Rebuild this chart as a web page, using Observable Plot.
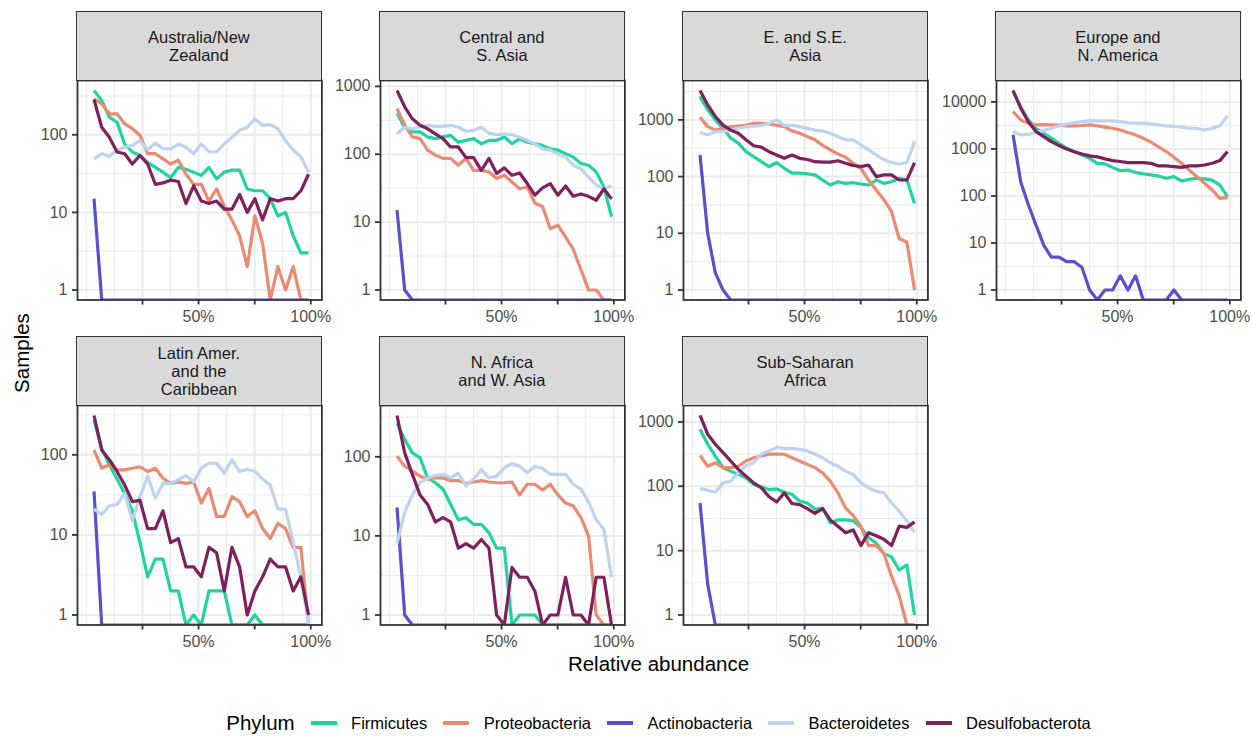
<!DOCTYPE html>
<html>
<head>
<meta charset="utf-8">
<script src="https://cdn.jsdelivr.net/npm/d3@7"></script>
<script src="https://cdn.jsdelivr.net/npm/@observablehq/plot@0.6"></script>
<style>
  html, body { margin: 0; padding: 0; background: #fff; }
  #chart { position: relative; width: 1252px; height: 736px; overflow: hidden;
           font-family: "Liberation Sans", Arial, Helvetica, sans-serif; }
  .strip { position: absolute; box-sizing: border-box; background: #d9d9d9; border: 1.8px solid #333;
           display: flex; align-items: center; justify-content: center; text-align: center;
           white-space: pre-line; font-size: 16.5px; line-height: 18.3px; color: #1a1a1a; }
  .panel { position: absolute; }
  .title { position: absolute; color: #000; font-size: 20.5px; white-space: nowrap; line-height: 1; }
  .legend { position: absolute; left: 0; width: 1317px; top: 710px; height: 26px;
            display: flex; align-items: center; justify-content: center; color: #000; }
  .legend .ltitle { font-size: 20.5px; margin-right: 16px; }
  .legend .key { display: inline-block; width: 26px; height: 3.2px; margin-right: 14.5px; }
  .legend .lab { font-size: 16.5px; margin-right: 16px; color: #000; }
  .legend .lab:last-child { margin-right: 0; }
</style>
</head>
<body>
<div id="chart"></div>
<script>
// Phyla in legend / drawing order, with their line colours
const phyla = ["Firmicutes", "Proteobacteria", "Actinobacteria", "Bacteroidetes", "Desulfobacterota"];
const phylumColors = ["#1fd49f", "#eb8a73", "#5b4ecf", "#bdd3ef", "#7e1f5e"];

// Region facets (strip labels, wrapped)
const regions = [
  "Australia/New\nZealand",
  "Central and\nS. Asia",
  "E. and S.E.\nAsia",
  "Europe and\nN. America",
  "Latin Amer.\nand the\nCaribbean",
  "N. Africa\nand W. Asia",
  "Sub-Saharan\nAfrica"
];

// Relative-abundance bin centres (%), and the abundance range the x axis covers
const abundanceBins = [3.41, 6.83, 10.24, 13.66, 17.07, 20.48, 23.90, 27.31, 30.72, 34.14,
  37.55, 40.97, 44.38, 47.79, 51.21, 54.62, 58.03, 61.45, 64.86, 68.28,
  71.69, 75.10, 78.52, 81.93, 85.34, 88.76, 92.17, 95.59, 99.00];
const abundanceLimits = [1, 100];
const xTickValues = [25, 50, 75, 100];
const xTickLabels = ["", "50%", "", "100%"];
const xMinorBreaks = [0, 12.5, 37.5, 62.5, 87.5];

// Sample counts per bin, one table per region
const australiaNZ = {
  Firmicutes:       [372, 277, 169, 145, 76, 60, 54, 44, 38, 33, 28, 38, 36, 33, 30, 38, 27, 33, 35, 35, 20, 19, 19, 15, 9, 10, 5, 3, 3],
  Proteobacteria:   [290, 250, 186, 186, 139, 120, 98, 57, 57, 49, 42, 47, 31, 23, 23, 14, 20, 12, 8, 5, 2, 9, 4, 0, 2, 1, 2, 0, 0],
  Actinobacteria:   [15, 0, 0, 0, 0, 0, 0, 0, 0, 0, 0, 0, 0, 0, 0, 0, 0, 0, 0, 0, 0, 0, 0, 0, 0, 0, 0, 0, 0],
  Bacteroidetes:    [49, 57, 53, 63, 69, 73, 84, 64, 78, 66, 66, 76, 69, 57, 76, 60, 60, 76, 93, 114, 125, 160, 132, 135, 120, 84, 63, 52, 33],
  Desulfobacterota: [285, 125, 93, 60, 57, 42, 54, 42, 23, 24, 26, 25, 13, 22, 14, 13, 14, 11, 11, 17, 10, 15, 8, 15, 14, 15, 15, 19, 31]
};
const centralSAsia = {
  Firmicutes:       [400, 250, 213, 213, 180, 170, 180, 190, 150, 160, 170, 143, 160, 160, 180, 143, 170, 150, 143, 135, 120, 115, 102, 91, 73, 69, 55, 33, 12],
  Proteobacteria:   [470, 268, 180, 170, 115, 97, 87, 87, 69, 87, 58, 58, 55, 44, 49, 39, 31, 33, 19, 17, 8, 9, 6, 4, 2, 1, 1, 0, 0],
  Actinobacteria:   [15, 1, 0, 0, 0, 0, 0, 0, 0, 0, 0, 0, 0, 0, 0, 0, 0, 0, 0, 0, 0, 0, 0, 0, 0, 0, 0, 0, 0],
  Bacteroidetes:    [200, 250, 237, 257, 267, 257, 257, 267, 250, 218, 225, 250, 205, 194, 200, 194, 180, 160, 143, 120, 115, 102, 91, 69, 61, 46, 35, 31, 34],
  Desulfobacterota: [870, 500, 333, 267, 237, 200, 170, 128, 128, 89, 89, 58, 87, 52, 63, 49, 53, 37, 25, 32, 37, 25, 34, 24, 26, 24, 21, 31, 22]
};
const eastSEAsia = {
  Firmicutes:       [2600, 1500, 1000, 710, 475, 390, 275, 225, 183, 150, 177, 140, 115, 115, 112, 107, 87, 71, 81, 76, 78, 74, 71, 87, 76, 81, 93, 87, 34],
  Proteobacteria:   [1110, 760, 660, 710, 760, 780, 800, 870, 870, 850, 800, 760, 640, 580, 510, 445, 355, 295, 250, 220, 172, 140, 87, 58, 39, 24, 8, 7, 1],
  Actinobacteria:   [240, 10, 2, 1, 0, 0, 0, 0, 0, 0, 0, 0, 0, 0, 0, 0, 0, 0, 0, 0, 0, 0, 0, 0, 0, 0, 0, 0, 0],
  Bacteroidetes:    [600, 545, 620, 620, 660, 710, 760, 780, 790, 870, 1000, 800, 800, 760, 710, 660, 640, 580, 510, 445, 445, 360, 295, 240, 200, 177, 167, 177, 415],
  Desulfobacterota: [3300, 1830, 1150, 810, 660, 580, 445, 350, 330, 275, 240, 210, 240, 210, 200, 183, 180, 180, 190, 172, 157, 150, 160, 100, 107, 107, 87, 87, 177]
};
const europeNAmerica = {
  Firmicutes:       [16600, 7950, 4150, 2750, 2150, 1690, 1320, 1030, 880, 745, 630, 495, 480, 405, 345, 355, 315, 295, 280, 265, 238, 258, 208, 225, 238, 230, 218, 170, 97],
  Proteobacteria:   [6200, 4150, 3530, 3240, 3300, 3240, 3200, 3090, 3090, 3150, 3240, 3090, 2900, 2750, 2520, 2230, 1990, 1690, 1390, 1110, 880, 665, 495, 355, 258, 186, 134, 89, 93],
  Actinobacteria:   [2000, 200, 65, 24, 9, 5, 5, 4, 4, 3, 1, 0, 1, 1, 2, 1, 2, 0, 0, 0, 0, 1, 0, 0, 0, 0, 0, 0, 0],
  Bacteroidetes:    [2340, 1990, 2030, 2230, 2450, 2750, 3090, 3390, 3630, 3800, 4000, 3950, 3950, 3950, 3800, 3630, 3530, 3530, 3390, 3240, 3090, 3000, 2900, 2750, 2750, 2520, 2750, 3090, 5030],
  Desulfobacterota: [17500, 7350, 3800, 2340, 1830, 1430, 1180, 1000, 870, 780, 710, 680, 615, 565, 540, 510, 510, 510, 495, 435, 435, 420, 405, 435, 435, 455, 495, 565, 880]
};
const latinAmerica = {
  Firmicutes:       [272, 120, 75, 50, 33, 20, 8, 3, 5, 5, 2, 2, 0, 1, 0, 2, 2, 2, 0, 0, 0, 1, 0, 0, 0, 0, 0, 0, 0],
  Proteobacteria:   [115, 68, 75, 65, 65, 68, 71, 62, 68, 51, 44, 46, 44, 46, 25, 38, 17, 17, 30, 26, 17, 20, 12, 9, 14, 12, 7, 7, 0],
  Actinobacteria:   [35, 0, 0, 0, 0, 0, 0, 0, 0, 0, 0, 0, 0, 0, 0, 0, 0, 0, 0, 0, 0, 0, 0, 0, 0, 0, 0, 0, 0],
  Bacteroidetes:    [21, 18, 23, 24, 33, 15, 30, 54, 29, 44, 44, 49, 55, 46, 68, 79, 79, 59, 87, 62, 66, 62, 50, 42, 21, 21, 8, 3, 0],
  Desulfobacterota: [310, 115, 87, 62, 42, 26, 27, 12, 12, 20, 8, 9, 4, 4, 3, 7, 6, 2, 7, 4, 1, 2, 3, 5, 4, 4, 2, 3, 1]
};
const nAfricaWAsia = {
  Firmicutes:       [265, 166, 112, 97, 54, 47, 39, 25, 16, 17, 14, 14, 11, 7, 7, 0, 1, 1, 1, 0, 0, 0, 0, 0, 0, 0, 0, 0, 0],
  Proteobacteria:   [102, 76, 66, 57, 52, 54, 54, 50, 50, 46, 48, 50, 48, 47, 47, 48, 33, 45, 45, 38, 45, 33, 26, 24, 17, 10, 1, 0, 0],
  Actinobacteria:   [23, 1, 0, 0, 0, 0, 0, 0, 0, 0, 0, 0, 0, 0, 0, 0, 0, 0, 0, 0, 0, 0, 0, 0, 0, 0, 0, 0, 0],
  Bacteroidetes:    [8, 20, 33, 47, 54, 58, 60, 54, 62, 43, 52, 69, 54, 57, 73, 82, 76, 63, 76, 71, 60, 60, 60, 45, 39, 27, 16, 12, 3],
  Desulfobacterota: [333, 112, 60, 33, 25, 15, 17, 15, 7, 8, 7, 9, 7, 1, 0, 4, 3, 3, 2, 0, 1, 1, 3, 1, 1, 0, 3, 3, 0]
};
const subSaharanAfrica = {
  Firmicutes:       [770, 450, 295, 195, 172, 153, 135, 107, 98, 89, 91, 81, 75, 59, 55, 44, 46, 27, 30, 30, 29, 23, 16, 13, 9, 8, 5, 6, 1],
  Proteobacteria:   [302, 205, 232, 195, 195, 205, 247, 277, 295, 315, 315, 315, 277, 247, 219, 195, 162, 120, 79, 46, 35, 24, 12, 12, 9, 4, 2, 0, 0],
  Actinobacteria:   [55, 3, 0, 0, 0, 0, 0, 0, 0, 0, 0, 0, 0, 0, 0, 0, 0, 0, 0, 0, 0, 0, 0, 0, 0, 0, 0, 0, 0],
  Bacteroidetes:    [92, 87, 81, 113, 120, 162, 210, 232, 315, 355, 405, 385, 385, 375, 355, 315, 277, 232, 205, 172, 153, 113, 95, 84, 79, 55, 41, 29, 19],
  Desulfobacterota: [1260, 645, 450, 333, 247, 183, 144, 113, 95, 69, 57, 79, 54, 52, 45, 38, 45, 30, 24, 19, 21, 12, 19, 17, 15, 12, 24, 23, 28]
};
const regionCounts = [australiaNZ, centralSAsia, eastSEAsia, europeNAmerica, latinAmerica, nAfricaWAsia, subSaharanAfrica];

// Facet grid geometry (px)
const panelLefts = [76.7, 379.7, 683, 995.7];
const stripTops = [11, 336];
const panelTops = [80, 405];
const PW = 244.4, PH = 219.5;
const ML = 70, MR = 24, MT = 2, MB = 36;

const chart = document.getElementById("chart");
const expand = ([a, b], f = 0.05) => [a - f * (b - a), b + f * (b - a)];
const xDomain = expand(abundanceLimits);

regions.forEach((region, i) => {
  const col = i % 4, row = Math.floor(i / 4);
  const counts = regionCounts[i];
  const rows = [];
  phyla.forEach(p => counts[p].forEach((n, j) => rows.push({phylum: p, x: abundanceBins[j], n})));

  // free log-scale y per facet, 5% padding in log space; zero counts sit on the lower edge
  const positive = rows.filter(d => d.n > 0).map(d => d.n);
  const [lo, hi] = expand([Math.log10(d3.min(positive)), Math.log10(d3.max(positive))]);
  const yDomain = [10 ** lo, 10 ** hi];
  const yMajor = d3.range(Math.ceil(lo), Math.floor(hi) + 1).map(k => 10 ** k);
  const yMinor = d3.range(Math.floor(lo) - 1, Math.ceil(hi) + 1).map(k => 10 ** (k + 0.5))
    .filter(v => v >= yDomain[0] && v <= yDomain[1]);

  const plot = Plot.plot({
    width: ML + PW + MR,
    height: MT + PH + MB,
    marginLeft: ML, marginRight: MR, marginTop: MT, marginBottom: MB,
    x: {domain: xDomain},
    y: {type: "log", domain: yDomain},
    color: {domain: phyla, range: phylumColors},
    style: {fontFamily: '"Liberation Sans", Arial, Helvetica, sans-serif', fontSize: "16px",
            background: "transparent", overflow: "visible"},
    marks: [
      Plot.ruleX(xMinorBreaks, {stroke: "#ebebeb", strokeWidth: 1}),
      Plot.ruleY(yMinor, {stroke: "#ebebeb", strokeWidth: 1}),
      Plot.ruleX(xTickValues, {stroke: "#ebebeb", strokeWidth: 2}),
      Plot.ruleY(yMajor, {stroke: "#ebebeb", strokeWidth: 2}),
      Plot.line(rows, {
        x: "x",
        y: d => (d.n > 0 ? d.n : yDomain[0]),
        z: "phylum",
        stroke: "phylum",
        strokeWidth: 3.2,
        strokeLinecap: "butt",
        strokeLinejoin: "round",
        clip: true
      }),
      Plot.frame({stroke: "#333", strokeWidth: 1.8}),
      Plot.axisY({ticks: yMajor, tickFormat: d3.format("d"), tickSize: 5, tickPadding: 5,
                  stroke: "#333", strokeWidth: 1.8, fill: "#4d4d4d", label: null}),
      Plot.axisX({ticks: xTickValues, tickFormat: d => xTickLabels[xTickValues.indexOf(d)],
                  tickSize: 5, tickPadding: 6, stroke: "#333", strokeWidth: 1.8, fill: "#4d4d4d", label: null})
    ]
  });
  plot.classList.add("panel");
  plot.style.left = (panelLefts[col] - ML) + "px";
  plot.style.top = (panelTops[row] - MT) + "px";
  chart.appendChild(plot);

  const strip = document.createElement("div");
  strip.className = "strip";
  strip.textContent = region;
  strip.style.left = (panelLefts[col] - 0.9) + "px";
  strip.style.width = (PW + 1.8) + "px";
  strip.style.top = stripTops[row] + "px";
  strip.style.height = (panelTops[row] + 0.9 - stripTops[row]) + "px";
  chart.appendChild(strip);
});

// Axis titles
const xTitle = document.createElement("div");
xTitle.className = "title";
xTitle.textContent = "Relative abundance";
xTitle.style.left = "0px";
xTitle.style.width = "1317px";
xTitle.style.textAlign = "center";
xTitle.style.top = "654px";
chart.appendChild(xTitle);

const yTitle = document.createElement("div");
yTitle.className = "title";
yTitle.textContent = "Samples";
yTitle.style.left = "21.5px";
yTitle.style.top = "352.5px";
yTitle.style.transform = "translate(-50%, -50%) rotate(-90deg)";
chart.appendChild(yTitle);

// Legend built from the same phylum / colour arrays as the lines
const legend = document.createElement("div");
legend.className = "legend";
const lt = document.createElement("span");
lt.className = "ltitle";
lt.textContent = "Phylum";
legend.appendChild(lt);
phyla.forEach((p, i) => {
  const k = document.createElement("span");
  k.className = "key";
  k.style.background = phylumColors[i];
  legend.appendChild(k);
  const l = document.createElement("span");
  l.className = "lab";
  l.textContent = p;
  legend.appendChild(l);
});
chart.appendChild(legend);
</script>
</body>
</html>
